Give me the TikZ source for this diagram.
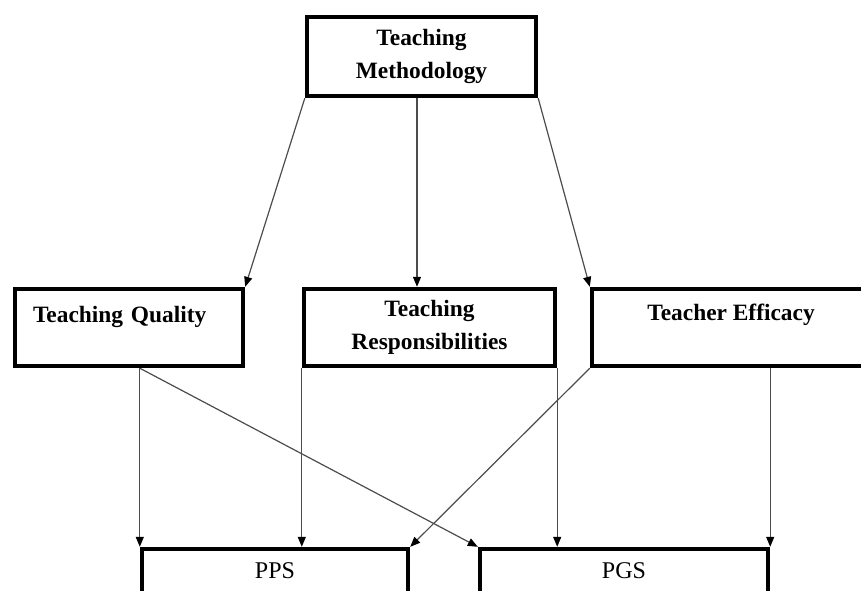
\documentclass[tikz,border=0pt]{standalone}
\usepackage{fontspec}
\setmainfont{Liberation Serif}
\usetikzlibrary{arrows.meta}
\begin{document}
\begin{tikzpicture}[x=0.5pt,y=-0.5pt,
    factor/.style ={rectangle, draw, line width=2.2pt, inner sep=0pt, align=center,
                    font=\fontsize{11.7}{16.8}\selectfont\bfseries},
    outcome/.style ={rectangle, draw, line width=2.2pt, inner sep=0pt,
                    font=\fontsize{12}{14}\selectfont, text height=14.5pt, text depth=31pt},
    link/.style ={draw=black!70, line width=0.6pt, -{Triangle[length=5pt,width=4pt,color=black]}}]
   \useasboundingbox (0,0) rectangle (861,590);
   \clip (0,0) rectangle (861,590);
   % boxes
   \node[factor, minimum width=114.5pt, minimum height=39.5pt] (TM) at (421.5,56.5) {Teaching\\Methodology};
   \node[factor, text width=96pt, inner xsep=9pt, align=left, text height=16.5pt, text depth=22pt] (TQ) at (129,327.5) {Teaching Quality};
   \node[factor, minimum width=125.5pt, minimum height=38.5pt] (TR) at (429.5,327.5) {Teaching\\Responsibilities};
   \node[factor, minimum width=139pt, text height=15.5pt, text depth=23pt] (TE) at (731,327.5) {Teacher Efficacy};
   \node[outcome, minimum width=133pt] (PPS) at (275,594.5) {PPS};
   \node[outcome, minimum width=144pt] (PGS) at (624,594.5) {PGS};
   % arrows
   \coordinate (tmfoot) at ([xshift=-2.25pt]TM.south);
   \draw[link] (TM.south west) -- (TQ.north east);
   \draw[link] (tmfoot) -- (tmfoot |- TR.north);
   \draw[link] (TM.south east) -- (TE.north west);
   \draw[link] (PPS.north west |- TQ.south) -- (PPS.north west);
   \draw[link] (PPS.north west |- TQ.south) -- (PGS.north west);
   \draw[link] (TR.south west) -- (TR.south west |- PPS.north);
   \draw[link] (TR.south east) -- (TR.south east |- PGS.north);
   \draw[link] (TE.south west) -- (PPS.north east);
   \draw[link] (PGS.north east |- TE.south) -- (PGS.north east);
\end{tikzpicture}
\end{document}
